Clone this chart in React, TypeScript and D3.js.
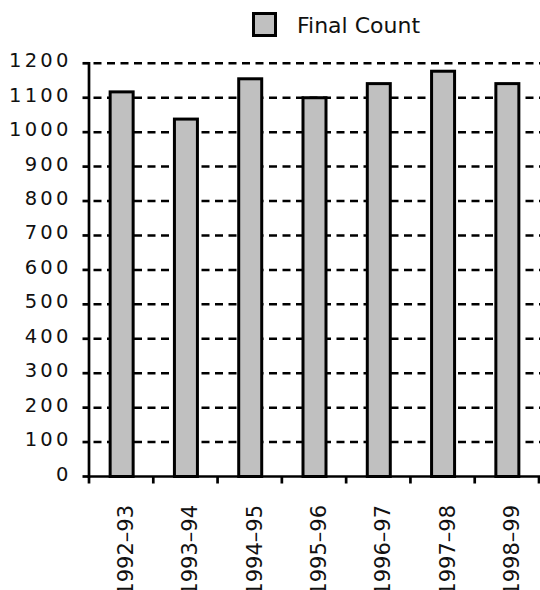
import React from "react";
import * as d3 from "d3";

// Season totals
const seasons: string[] = ["1992–93", "1993–94", "1994–95", "1995–96", "1996–97", "1997–98", "1998–99"];
const finalCounts: number[] = [1117, 1038, 1155, 1100, 1141, 1177, 1141];
const yTicks: number[] = [0, 100, 200, 300, 400, 500, 600, 700, 800, 900, 1000, 1100, 1200];
const legendLabel = "Final Count";

const W = 540;
const H = 590;
const FONT = "'DejaVu Sans', sans-serif";

export default function App() {
  const x = d3.scaleBand<string>().domain(seasons).range([89, 539]).padding(0);
  const y = d3.scaleLinear().domain([0, 1200]).range([476.5, 63.3]);
  const bw = x.bandwidth();
  const barW = 23;
  const boundaries = d3.range(seasons.length + 1).map((i) => 89 + i * bw);

  return (
    <svg
      width={W}
      height={H}
      style={{ position: "absolute", left: 0, top: 0, background: "#fff" }}
      fontFamily={FONT}
    >
      {/* legend */}
      <rect x={253.5} y={13.5} width={22} height={22} fill="#c0c0c0" stroke="#000" strokeWidth={3} />
      <text x={297} y={33} fontSize={22} fill="#111">
        {legendLabel}
      </text>

      {/* dashed gridlines */}
      {yTicks
        .filter((t) => t > 0)
        .map((t) => (
          <line
            key={"g" + t}
            x1={90.5}
            x2={540}
            y1={y(t)}
            y2={y(t)}
            stroke="#000"
            strokeWidth={2.5}
            strokeDasharray="8,5.5"
            strokeDashoffset={-3}
          />
        ))}

      {/* bars */}
      {seasons.map((s, i) => {
        const cx = (x(s) as number) + bw / 2 + 0.5;
        return (
          <rect
            key={s}
            x={cx - barW / 2}
            y={y(finalCounts[i])}
            width={barW}
            height={y(0) - y(finalCounts[i])}
            fill="#c0c0c0"
            stroke="#000"
            strokeWidth={3}
          />
        );
      })}

      {/* y axis */}
      <line x1={89} x2={89} y1={y(1200) - 1.3} y2={y(0) + 1.3} stroke="#000" strokeWidth={2.7} />
      {yTicks.map((t) => (
        <g key={"y" + t}>
          <line x1={82.5} x2={89} y1={y(t)} y2={y(t)} stroke="#000" strokeWidth={2.7} />
          <text
            x={71.5}
            y={y(t) + 4}
            fontSize={19.5}
            letterSpacing={3.2}
            textAnchor="end"
            fill="#111"
          >
            {t}
          </text>
        </g>
      ))}

      {/* x axis */}
      <line x1={87.7} x2={540} y1={y(0)} y2={y(0)} stroke="#000" strokeWidth={2.7} />
      {boundaries.map((bx, i) => (
        <line key={"xt" + i} x1={bx} x2={bx} y1={y(0)} y2={483.5} stroke="#000" strokeWidth={2.7} />
      ))}
      {seasons.map((s) => {
        const cx = (x(s) as number) + bw / 2 + 12;
        return (
          <text
            key={"xl" + s}
            transform={`translate(${cx},505) rotate(-90)`}
            textAnchor="end"
            fontSize={21}
            fill="#111"
          >
            {s}
          </text>
        );
      })}
    </svg>
  );
}
